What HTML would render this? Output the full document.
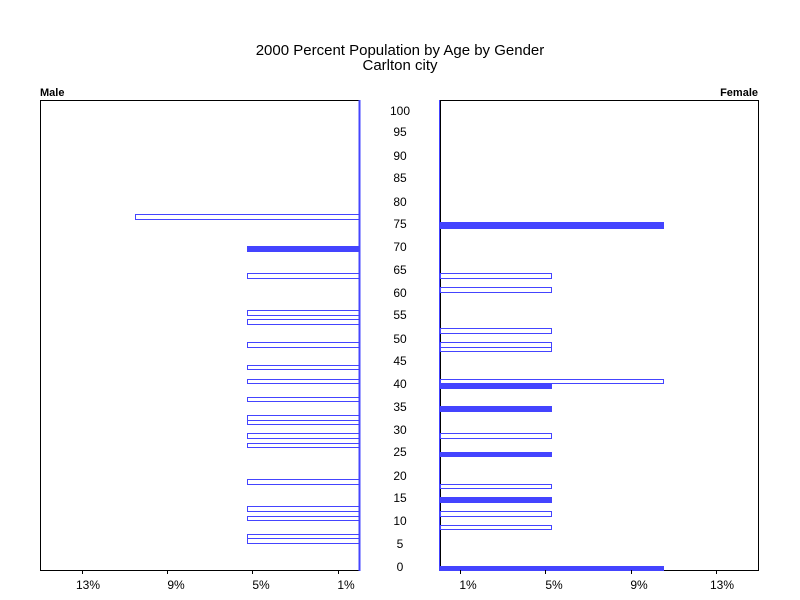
<!DOCTYPE html>
<html><head><meta charset="utf-8"><style>
html,body{margin:0;padding:0;background:#fff;}
svg{display:block;}
text{font-family:"Liberation Sans",Arial,sans-serif;fill:#000;}
</style></head><body>
<svg width="800" height="600" viewBox="0 0 800 600" xmlns="http://www.w3.org/2000/svg">
<rect width="800" height="600" fill="#fff"/>
<text x="400" y="55" font-size="15" text-anchor="middle">2000 Percent Population by Age by Gender</text>
<text x="400" y="70" font-size="15" text-anchor="middle">Carlton city</text>
<text x="40" y="96" font-size="11" font-weight="bold">Male</text>
<text x="758" y="96" font-size="11" font-weight="bold" text-anchor="end">Female</text>
<!-- male panel -->
<rect x="40.5" y="100.5" width="319" height="470" fill="none" stroke="#000" stroke-width="1"/>
<line x1="359.5" y1="100" x2="359.5" y2="571" stroke="#4444ff" stroke-width="2"/>
<g fill="none" stroke="#4444ff" stroke-width="1">
<rect x="135.5" y="214.5" width="224" height="5"/>
<rect x="247.5" y="273.5" width="112" height="5"/>
<rect x="247.5" y="310.5" width="112" height="5"/>
<rect x="247.5" y="319.5" width="112" height="5"/>
<rect x="247.5" y="342.5" width="112" height="5"/>
<rect x="247.5" y="365.5" width="112" height="4"/>
<rect x="247.5" y="379.5" width="112" height="4"/>
<rect x="247.5" y="397.5" width="112" height="4"/>
<rect x="247.5" y="415.5" width="112" height="5"/>
<rect x="247.5" y="420.5" width="112" height="4"/>
<rect x="247.5" y="433.5" width="112" height="5"/>
<rect x="247.5" y="443.5" width="112" height="4"/>
<rect x="247.5" y="479.5" width="112" height="5"/>
<rect x="247.5" y="506.5" width="112" height="5"/>
<rect x="247.5" y="516.5" width="112" height="4"/>
<rect x="247.5" y="534.5" width="112" height="4"/>
<rect x="247.5" y="538.5" width="112" height="5"/>
</g>
<rect x="247" y="246" width="113" height="6" fill="#4444ff"/>
<g stroke="#000" stroke-width="1">
<line x1="82.5" y1="570" x2="82.5" y2="574"/><line x1="167.5" y1="570" x2="167.5" y2="574"/>
<line x1="252.5" y1="570" x2="252.5" y2="574"/><line x1="338.5" y1="570" x2="338.5" y2="574"/>
</g>
<g font-size="12" text-anchor="middle">
<text x="88" y="589">13%</text><text x="176" y="589">9%</text><text x="261" y="589">5%</text><text x="346" y="589">1%</text>
</g>
<!-- female panel -->
<rect x="440.5" y="100.5" width="318" height="470" fill="none" stroke="#000" stroke-width="1"/>
<g fill="none" stroke="#4444ff" stroke-width="1">
<rect x="440.5" y="273.5" width="111" height="5"/>
<rect x="440.5" y="287.5" width="111" height="5"/>
<rect x="440.5" y="328.5" width="111" height="5"/>
<rect x="440.5" y="342.5" width="111" height="5"/>
<rect x="440.5" y="347.5" width="111" height="4"/>
<rect x="440.5" y="379.5" width="223" height="4"/>
<rect x="440.5" y="433.5" width="111" height="5"/>
<rect x="440.5" y="484.5" width="111" height="4"/>
<rect x="440.5" y="511.5" width="111" height="5"/>
<rect x="440.5" y="525.5" width="111" height="4"/>
</g>
<g fill="#4444ff">
<rect x="440" y="222" width="224" height="7"/>
<rect x="440" y="383" width="112" height="6"/>
<rect x="440" y="406" width="112" height="6"/>
<rect x="440" y="452" width="112" height="5"/>
<rect x="440" y="497" width="112" height="6"/>
<rect x="440" y="566" width="224" height="5"/>
</g>
<line x1="439.5" y1="100" x2="439.5" y2="571" stroke="#4444ff" stroke-width="1"/>
<g stroke="#000" stroke-width="1">
<line x1="460.5" y1="570" x2="460.5" y2="574"/><line x1="545.5" y1="570" x2="545.5" y2="574"/>
<line x1="631.5" y1="570" x2="631.5" y2="574"/><line x1="716.5" y1="570" x2="716.5" y2="574"/>
</g>
<g font-size="12" text-anchor="middle">
<text x="468" y="589">1%</text><text x="554" y="589">5%</text><text x="639" y="589">9%</text><text x="722" y="589">13%</text>
</g>
<!-- age labels -->
<g font-size="12" text-anchor="middle">
<text x="400" y="115">100</text><text x="400" y="136">95</text><text x="400" y="160">90</text>
<text x="400" y="182">85</text><text x="400" y="206">80</text><text x="400" y="228">75</text>
<text x="400" y="251">70</text><text x="400" y="274">65</text><text x="400" y="297">60</text>
<text x="400" y="319">55</text><text x="400" y="343">50</text><text x="400" y="365">45</text>
<text x="400" y="388">40</text><text x="400" y="411">35</text><text x="400" y="434">30</text>
<text x="400" y="456">25</text><text x="400" y="480">20</text><text x="400" y="502">15</text>
<text x="400" y="525">10</text><text x="400" y="548">5</text><text x="400" y="571">0</text>
</g>
</svg>
</body></html>
